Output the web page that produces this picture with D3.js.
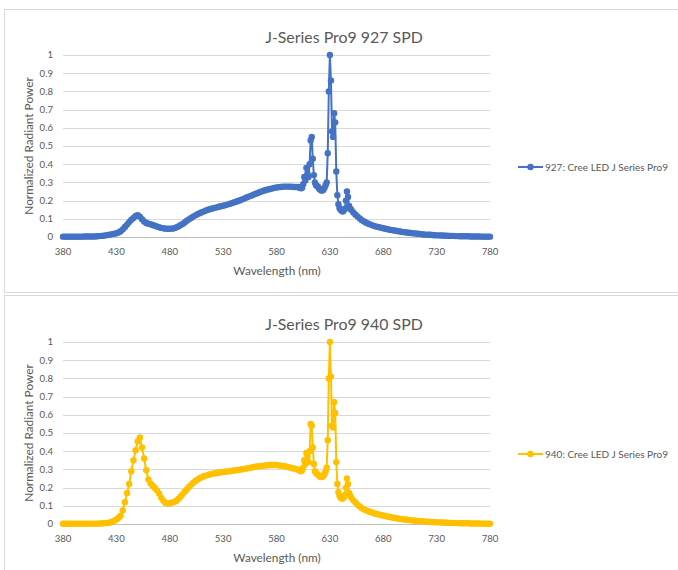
<!DOCTYPE html>
<html lang="en">
<head>
<meta charset="utf-8">
<script src="https://d3js.org/d3.v7.min.js"></script>
<style>
  body { margin: 0; background: #fff; }
  svg { display: block; font-family: Lato, "Open Sans", sans-serif; }
  .tick-label { fill: #595959; font-size: 9.6px; }
  .axis-title { fill: #595959; font-size: 11.8px; }
  .chart-title { fill: #595959; font-size: 15.9px; }
  .legend-text { fill: #595959; font-size: 10px; }
</style>
</head>
<body>
<script>
// wavelengths (nm) shared by both spectra
var wavelengths = [
  380,382,384,386,388,390,392,394,396,398,400,402,404,406,408,410,412,414,416,418,420,422,424,426,428,
  430,432,434,436,438,440,442,444,446,448,450,452,454,456,458,460,462,464,466,468,470,472,474,476,478,480,
  482,484,486,488,490,492,494,496,498,500,502,504,506,508,510,512,514,516,518,520,
  522,524,526,528,530,532,534,536,538,540,542,544,546,548,550,552,554,556,558,560,
  562,564,566,568,570,572,574,576,578,580,582,584,586,588,590,592,594,596,598,
  600,601,602,603,604,605,606,607,608,609,610,611,612,613,614,615,616,617,618,619,620,
  621,622,623,624,625,626,627,628,629,630,631,632,633,634,635,636,637,638,639,640,
  641,642,643,644,645,646,647,648,649,650,
  652,654,656,658,660,662,664,666,668,670,672,674,676,678,680,682,684,686,688,690,
  692,694,696,698,700,702,704,706,708,710,712,714,716,718,720,722,724,726,728,730,
  732,734,736,738,740,742,744,746,748,750,752,754,756,758,760,762,764,766,768,770,
  772,774,776,778,780
];

// 927: Cree LED J Series Pro9
var spd927 = [
  0.002,0.002,0.002,0.002,0.002,0.002,0.002,0.002,0.002,0.002,0.003,0.003,0.003,0.003,0.003,0.003,0.004,0.005,0.006,0.007,0.009,0.011,0.013,0.016,0.018,
  0.02,0.025,0.032,0.042,0.055,0.068,0.082,0.095,0.105,0.115,0.12,0.112,0.098,0.085,0.077,0.073,0.07,0.066,0.062,0.058,0.054,0.05,0.048,0.046,0.045,0.045,
  0.046,0.048,0.052,0.058,0.065,0.072,0.08,0.089,0.097,0.105,0.112,0.119,0.125,0.131,0.136,0.141,0.146,0.15,0.154,0.157,
  0.16,0.163,0.166,0.169,0.172,0.175,0.178,0.182,0.186,0.19,0.194,0.198,0.202,0.207,0.212,0.217,0.222,0.226,0.231,0.236,
  0.241,0.246,0.25,0.254,0.258,0.261,0.264,0.267,0.27,0.272,0.274,0.275,0.276,0.277,0.277,0.277,0.276,0.275,0.275,
  0.275,0.272,0.27,0.268,0.27,0.29,0.33,0.31,0.38,0.35,0.33,0.4,0.53,0.55,0.43,0.34,0.3,0.285,0.28,0.275,0.265,
  0.26,0.255,0.255,0.26,0.27,0.285,0.3,0.46,0.8,1.0,0.86,0.58,0.55,0.68,0.63,0.36,0.23,0.18,0.16,0.15,
  0.145,0.14,0.145,0.155,0.2,0.25,0.22,0.17,0.155,0.15,
  0.135,0.122,0.112,0.102,0.092,0.085,0.078,0.073,0.068,0.064,0.06,0.057,0.054,0.051,0.048,0.045,0.043,0.04,0.038,0.036,
  0.034,0.032,0.03,0.028,0.026,0.025,0.023,0.022,0.02,0.019,0.018,0.017,0.015,0.014,0.013,0.012,0.012,0.011,0.01,0.009,
  0.009,0.008,0.008,0.007,0.007,0.006,0.006,0.006,0.005,0.005,0.004,0.004,0.004,0.004,0.004,0.003,0.003,0.003,0.003,0.003,
  0.002,0.002,0.002,0.002,0.002
];

// 940: Cree LED J Series Pro9
var spd940 = [
  0.001,0.001,0.001,0.001,0.001,0.001,0.001,0.001,0.001,0.001,0.002,0.002,0.002,0.002,0.002,0.002,0.002,0.003,0.003,0.004,0.005,0.006,0.008,0.012,0.018,
  0.025,0.035,0.045,0.075,0.12,0.17,0.22,0.29,0.35,0.405,0.455,0.475,0.42,0.36,0.295,0.245,0.222,0.21,0.198,0.185,0.168,0.145,0.128,0.116,0.112,0.114,
  0.117,0.121,0.127,0.138,0.15,0.163,0.177,0.19,0.203,0.215,0.226,0.236,0.244,0.251,0.257,0.262,0.266,0.27,0.273,0.276,
  0.278,0.28,0.282,0.284,0.286,0.287,0.289,0.29,0.292,0.294,0.295,0.297,0.299,0.301,0.303,0.305,0.307,0.31,0.312,0.315,
  0.316,0.318,0.319,0.321,0.322,0.323,0.324,0.324,0.324,0.324,0.322,0.321,0.319,0.317,0.314,0.311,0.308,0.305,0.302,
  0.3,0.297,0.293,0.29,0.295,0.31,0.35,0.33,0.39,0.37,0.34,0.4,0.55,0.54,0.42,0.33,0.29,0.28,0.275,0.27,0.265,
  0.26,0.258,0.26,0.265,0.275,0.29,0.31,0.46,0.8,1.0,0.81,0.54,0.53,0.67,0.61,0.34,0.22,0.175,0.155,0.145,
  0.14,0.14,0.145,0.16,0.2,0.25,0.22,0.17,0.155,0.145,
  0.13,0.118,0.106,0.096,0.087,0.08,0.075,0.07,0.066,0.062,0.058,0.055,0.052,0.049,0.047,0.044,0.041,0.039,0.036,0.034,
  0.032,0.03,0.028,0.026,0.025,0.023,0.022,0.02,0.019,0.018,0.017,0.016,0.015,0.014,0.013,0.012,0.011,0.011,0.01,0.009,
  0.009,0.008,0.008,0.007,0.007,0.006,0.006,0.006,0.005,0.005,0.004,0.004,0.004,0.004,0.004,0.003,0.003,0.003,0.003,0.003,
  0.002,0.002,0.002,0.002,0.002
];

var xTicks = [380,430,480,530,580,630,680,730,780];
var yTicks = [0,0.1,0.2,0.3,0.4,0.5,0.6,0.7,0.8,0.9,1];

var charts = [
  { title: "J-Series Pro9 927 SPD", name: "927: Cree LED J Series Pro9", values: spd927, color: "#4472C4", top: 0, frameY: 9.5 },
  { title: "J-Series Pro9 940 SPD", name: "940: Cree LED J Series Pro9", values: spd940, color: "#FFC000", top: 287, frameY: 8.5 }
];

var svg = d3.select("body").append("svg").attr("width", 678).attr("height", 570);

function drawChart(c) {
  var g = svg.append("g").attr("transform", "translate(0," + c.top + ")");

  // frame (runs off the right edge like the screenshot)
  g.append("rect").attr("x", 4.5).attr("y", c.frameY).attr("width", 690).attr("height", 283)
    .attr("fill", "#fff").attr("stroke", "#d9d9d9");

  var x = d3.scaleLinear().domain([380, 780]).range([63, 490]);
  var y = d3.scaleLinear().domain([0, 1]).range([237, 55]);

  // gridlines
  g.append("g").selectAll("line").data(yTicks).enter().append("line")
    .attr("x1", x(380)).attr("x2", x(780))
    .attr("y1", function(d){ return Math.round(y(d)) + 0.5; })
    .attr("y2", function(d){ return Math.round(y(d)) + 0.5; })
    .attr("stroke", function(d){ return d === 0 ? "#bfbfbf" : "#d9d9d9"; })
    .attr("stroke-width", 1);

  // y tick labels
  g.append("g").selectAll("text").data(yTicks).enter().append("text")
    .attr("class", "tick-label")
    .attr("x", 53).attr("y", function(d){ return y(d); })
    .attr("dy", "0.35em").attr("text-anchor", "end")
    .text(function(d){ return d3.format("~g")(d); });

  // x tick labels
  g.append("g").selectAll("text").data(xTicks).enter().append("text")
    .attr("class", "tick-label")
    .attr("x", function(d){ return x(d); }).attr("y", 252)
    .attr("dy", "0.35em").attr("text-anchor", "middle")
    .text(function(d){ return d; });

  // titles
  g.append("text").attr("class", "chart-title")
    .attr("x", 344).attr("y", 37).attr("dy", "0.35em").attr("text-anchor", "middle")
    .text(c.title);
  g.append("text").attr("class", "axis-title")
    .attr("x", 277).attr("y", 271).attr("dy", "0.35em").attr("text-anchor", "middle")
    .text("Wavelength (nm)");
  g.append("text").attr("class", "axis-title")
    .attr("transform", "translate(29,146) rotate(-90)")
    .attr("dy", "0.35em").attr("text-anchor", "middle")
    .text("Normalized Radiant Power");

  var pts = wavelengths.map(function(w, i){ return [w, c.values[i]]; });
  var line = d3.line().x(function(d){ return x(d[0]); }).y(function(d){ return y(d[1]); });

  g.append("path").datum(pts).attr("d", line)
    .attr("fill", "none").attr("stroke", c.color).attr("stroke-width", 2)
    .attr("stroke-linejoin", "round");

  g.append("g").selectAll("circle").data(pts).enter().append("circle")
    .attr("cx", function(d){ return x(d[0]); })
    .attr("cy", function(d){ return y(d[1]); })
    .attr("r", 3.2).attr("fill", c.color);

  // legend
  var lg = g.append("g").attr("transform", "translate(518,167)");
  lg.append("line").attr("x1", 0).attr("x2", 25).attr("stroke", c.color).attr("stroke-width", 2);
  lg.append("circle").attr("cx", 12.5).attr("r", 3.2).attr("fill", c.color);
  lg.append("text").attr("class", "legend-text").attr("x", 27).attr("dy", "0.35em").text(c.name);
}

charts.forEach(drawChart);
</script>
</body>
</html>
